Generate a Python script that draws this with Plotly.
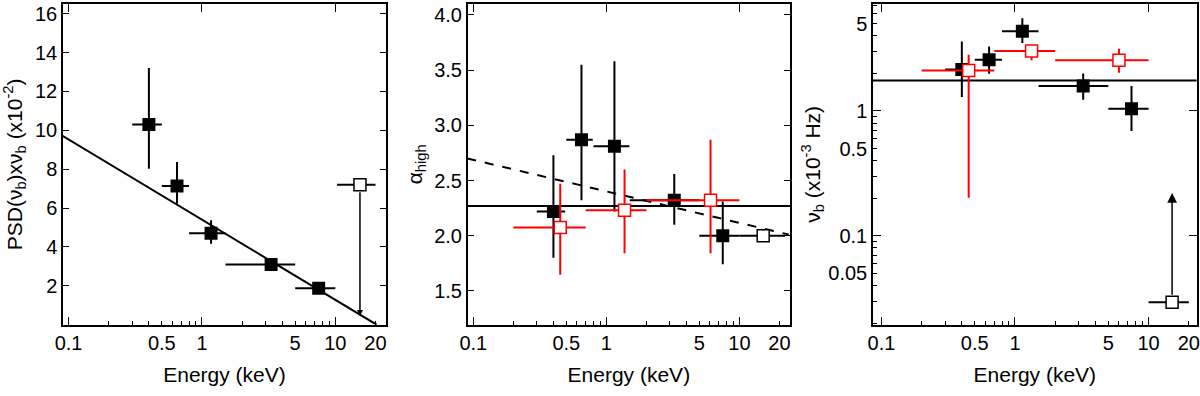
import numpy as np
import plotly.graph_objects as go

# ---------------- data ----------------
# Panel 1: PSD(nu_b) x nu_b (x1e-2)
psd_E = [0.40, 0.65, 1.17, 3.3, 7.5]
psd_Elo = [0.30, 0.50, 0.80, 1.5, 5.0]
psd_Ehi = [0.50, 0.80, 1.50, 5.0, 10.0]
psd_val = [10.3, 7.13, 4.71, 3.10, 1.88]
psd_up = [13.2, 8.37, 5.37, 3.42, 2.08]
psd_dn = [8.02, 6.22, 4.16, 2.82, 1.72]
psd_lim_E = [15.3]
psd_lim_Elo = [10.3]
psd_lim_Ehi = [20.0]
psd_lim_val = [7.2]
psd_lim_tip = [0.45]
psd_fit_E = [0.09, 20.4]
psd_fit_val = [9.72, 0.0]

# Panel 2: alpha_high
alp_E = [0.40, 0.65, 1.15, 3.24, 7.5]
alp_Elo = [0.30, 0.50, 0.80, 1.5, 5.0]
alp_Ehi = [0.49, 0.79, 1.49, 5.0, 10.0]
alp_val = [2.22, 2.87, 2.81, 2.32, 2.00]
alp_up = [2.73, 3.55, 3.58, 2.56, 2.31]
alp_dn = [1.80, 2.32, 2.22, 2.10, 1.74]
alp_open_E = [15.1]
alp_open_Elo = [10.0]
alp_open_Ehi = [22.0]
alp_open_val = [2.00]
alp_red_E = [0.45, 1.37, 6.07]
alp_red_Elo = [0.20, 0.70, 2.0]
alp_red_Ehi = [0.70, 2.0, 10.0]
alp_red_val = [2.075, 2.23, 2.32]
alp_red_up = [2.47, 2.60, 2.87]
alp_red_dn = [1.645, 1.84, 1.84]
alp_const = 2.27
alp_dash_E = [0.09, 23.5]
alp_dash_val = [2.70, 2.01]

# Panel 3: nu_b (x1e-3 Hz)
nu_E = [0.40, 0.64, 1.135, 3.24, 7.45]
nu_Elo = [0.30, 0.50, 0.80, 1.5, 5.0]
nu_Ehi = [0.50, 0.80, 1.50, 5.0, 10.0]
nu_val = [2.15, 2.57, 4.35, 1.58, 1.04]
nu_up = [3.59, 3.28, 5.52, 1.99, 1.58]
nu_dn = [1.29, 1.98, 3.49, 1.23, 0.69]
nu_lim_E = [15.0]
nu_lim_Elo = [10.0]
nu_lim_Ehi = [20.0]
nu_lim_val = [0.0295]
nu_lim_tip = [0.22]
nu_red_E = [0.45, 1.33, 6.0]
nu_red_Elo = [0.20, 0.70, 2.0]
nu_red_Ehi = [0.70, 2.0, 10.0]
nu_red_val = [2.11, 3.01, 2.54]
nu_red_up = [2.81, 3.01, 3.14]
nu_red_dn = [0.202, 2.54, 2.02]
nu_const = 1.75

# tick labels
x_labeled = [0.1, 0.5, 1, 5, 10, 20]
x_minor = [0.2, 0.3, 0.4, 0.5, 0.6, 0.7, 0.8, 0.9,
           2, 3, 4, 5, 6, 7, 8, 9, 20]
x_decades = [0.1, 1, 10]
psd_ticks = [2, 4, 6, 8, 10, 12, 14, 16]
alp_ticks = [1.5, 2.0, 2.5, 3.0, 3.5, 4.0]
nu_labeled = [0.05, 0.1, 0.5, 1, 5]
nu_minor = [0.02, 0.03, 0.04, 0.05, 0.06, 0.07, 0.08, 0.09,
            0.2, 0.3, 0.4, 0.5, 0.6, 0.7, 0.8, 0.9,
            2, 3, 4, 5, 6, 7]
nu_decades = [0.1, 1]

FONT = "Liberation Sans, Arial, sans-serif"
RED = "#ff0000"


def errx(E, lo, hi, color):
    E = np.array(E); lo = np.array(lo); hi = np.array(hi)
    return dict(type="data", symmetric=False, array=hi - E, arrayminus=E - lo,
                color=color, thickness=2, width=0)


def erry(v, up, dn, color):
    v = np.array(v); up = np.array(up); dn = np.array(dn)
    return dict(type="data", symmetric=False, array=up - v, arrayminus=v - dn,
                color=color, thickness=2, width=0)


fig = go.Figure()

# ---- Panel 1 ----
fig.add_trace(go.Scatter(x=psd_fit_E, y=psd_fit_val, mode="lines",
                         line=dict(color="black", width=2), xaxis="x", yaxis="y"))
fig.add_trace(go.Scatter(x=psd_E, y=psd_val, mode="markers",
                         marker=dict(symbol="square", size=13, color="black"),
                         error_x=errx(psd_E, psd_Elo, psd_Ehi, "black"),
                         error_y=erry(psd_val, psd_up, psd_dn, "black"),
                         xaxis="x", yaxis="y"))
fig.add_trace(go.Scatter(x=psd_lim_E, y=psd_lim_val, mode="markers",
                         marker=dict(symbol="square", size=12, color="white",
                                     line=dict(color="black", width=1.5)),
                         error_x=errx(psd_lim_E, psd_lim_Elo, psd_lim_Ehi, "black"),
                         xaxis="x", yaxis="y"))

# ---- Panel 2 ----
fig.add_trace(go.Scatter(x=[x_labeled[0] * 0.5, x_labeled[-1] * 2], y=[alp_const, alp_const],
                         mode="lines", line=dict(color="black", width=2),
                         xaxis="x2", yaxis="y2"))
fig.add_trace(go.Scatter(x=alp_dash_E, y=alp_dash_val, mode="lines",
                         line=dict(color="black", width=2, dash="dash"),
                         xaxis="x2", yaxis="y2"))
fig.add_trace(go.Scatter(x=alp_E, y=alp_val, mode="markers",
                         marker=dict(symbol="square", size=13, color="black"),
                         error_x=errx(alp_E, alp_Elo, alp_Ehi, "black"),
                         error_y=erry(alp_val, alp_up, alp_dn, "black"),
                         xaxis="x2", yaxis="y2"))
fig.add_trace(go.Scatter(x=alp_open_E, y=alp_open_val, mode="markers",
                         marker=dict(symbol="square", size=12, color="white",
                                     line=dict(color="black", width=1.5)),
                         error_x=errx(alp_open_E, alp_open_Elo, alp_open_Ehi, "black"),
                         xaxis="x2", yaxis="y2"))
fig.add_trace(go.Scatter(x=alp_red_E, y=alp_red_val, mode="markers",
                         marker=dict(symbol="square", size=12, color="white",
                                     line=dict(color=RED, width=1.5)),
                         error_x=errx(alp_red_E, alp_red_Elo, alp_red_Ehi, RED),
                         error_y=erry(alp_red_val, alp_red_up, alp_red_dn, RED),
                         xaxis="x2", yaxis="y2"))

# ---- Panel 3 ----
fig.add_trace(go.Scatter(x=[x_labeled[0] * 0.5, x_labeled[-1] * 2], y=[nu_const, nu_const],
                         mode="lines", line=dict(color="black", width=2),
                         xaxis="x3", yaxis="y3"))
fig.add_trace(go.Scatter(x=nu_E, y=nu_val, mode="markers",
                         marker=dict(symbol="square", size=13, color="black"),
                         error_x=errx(nu_E, nu_Elo, nu_Ehi, "black"),
                         error_y=erry(nu_val, nu_up, nu_dn, "black"),
                         xaxis="x3", yaxis="y3"))
fig.add_trace(go.Scatter(x=nu_red_E, y=nu_red_val, mode="markers",
                         marker=dict(symbol="square", size=12, color="white",
                                     line=dict(color=RED, width=1.5)),
                         error_x=errx(nu_red_E, nu_red_Elo, nu_red_Ehi, RED),
                         error_y=erry(nu_red_val, nu_red_up, nu_red_dn, RED),
                         xaxis="x3", yaxis="y3"))
fig.add_trace(go.Scatter(x=nu_lim_E, y=nu_lim_val, mode="markers",
                         marker=dict(symbol="square", size=12, color="white",
                                     line=dict(color="black", width=1.5)),
                         error_x=errx(nu_lim_E, nu_lim_Elo, nu_lim_Ehi, "black"),
                         xaxis="x3", yaxis="y3"))

# empty traces to bind overlay axes
for xa, ya in [("x4", "y"), ("x5", "y2"), ("x6", "y3"), ("x6", "y4")]:
    fig.add_trace(go.Scatter(x=[], y=[], xaxis=xa, yaxis=ya, showlegend=False))

# ---------------- axes ----------------
XR = [np.log10(0.0908), np.log10(24.0)]
XR3 = [np.log10(0.0865), np.log10(22.9)]
ydom = [0.18, 0.99]
xdoms = [[0.0525, 0.3217], [0.3898, 0.6583], [0.7275, 0.9972]]

tickfont = dict(family=FONT, size=20, color="black")
titlefont = dict(family=FONT, size=21, color="black")


def main_x(dom, anchor, rng):
    return dict(domain=dom, anchor=anchor, type="log", range=rng,
                tickvals=x_labeled, ticktext=["%g" % v for v in x_labeled],
                ticks="inside", ticklen=4, tickwidth=1.2, tickcolor="black",
                minor=dict(tickvals=x_minor, ticks="inside", ticklen=4,
                           tickwidth=1.2, tickcolor="black", showgrid=False),
                showline=True, linecolor="black", linewidth=1.5, mirror=False,
                showgrid=False, zeroline=False, tickfont=tickfont, automargin=False,
                title=dict(text="Energy (keV)", font=titlefont, standoff=14))


def over_x(over, anchor, rng):
    return dict(overlaying=over, anchor=anchor, side="bottom", type="log", range=rng,
                tickvals=x_decades, showticklabels=False,
                ticks="inside", ticklen=8, tickwidth=1.2, tickcolor="black",
                showline=True, linecolor="black", linewidth=1.5, mirror="ticks",
                showgrid=False, zeroline=False, automargin=False)


layout = dict(
    width=1200, height=396, paper_bgcolor="white", plot_bgcolor="white",
    margin=dict(l=0, r=0, t=0, b=0, autoexpand=False), showlegend=False,
    font=dict(family=FONT, color="black"), hovermode=False,
    xaxis=main_x(xdoms[0], "y", XR),
    xaxis2=main_x(xdoms[1], "y2", XR),
    xaxis3=main_x(xdoms[2], "y3", XR3),
    xaxis4=over_x("x", "y", XR),
    xaxis5=over_x("x2", "y2", XR),
    xaxis6=over_x("x3", "y3", XR3),
    yaxis=dict(domain=ydom, anchor="x", range=[0, 16.5], tickvals=psd_ticks,
               ticks="inside", ticklen=6, tickwidth=1.2, tickcolor="black",
               showline=True, linecolor="black", linewidth=1.5, mirror="ticks",
               showgrid=False, zeroline=False, tickfont=tickfont, automargin=False,
               title=dict(text="PSD(ν<sub>b</sub>)xν<sub>b</sub> (x10<sup>-2</sup>)",
                          font=titlefont, standoff=10)),
    yaxis2=dict(domain=ydom, anchor="x2", range=[1.193, 4.1], tickvals=alp_ticks,
                tickformat=".1f",
                ticks="inside", ticklen=6, tickwidth=1.2, tickcolor="black",
                showline=True, linecolor="black", linewidth=1.5, mirror="ticks",
                showgrid=False, zeroline=False, tickfont=tickfont, automargin=False,
                title=dict(text="α<sub>high</sub>", font=titlefont, standoff=6)),
    yaxis3=dict(domain=ydom, anchor="x3", type="log", range=[-1.711, 0.856],
                tickvals=nu_labeled, ticktext=["%g" % v for v in nu_labeled],
                ticks="inside", ticklen=4, tickwidth=1.2, tickcolor="black",
                minor=dict(tickvals=nu_minor, ticks="inside", ticklen=4,
                           tickwidth=1.2, tickcolor="black", showgrid=False),
                showline=True, linecolor="black", linewidth=1.5, mirror=False,
                showgrid=False, zeroline=False, tickfont=tickfont, automargin=False,
                title=dict(text="ν<sub>b</sub> (x10<sup>-3</sup> Hz)",
                           font=titlefont, standoff=2)),
    yaxis4=dict(overlaying="y3", anchor="x6", side="left", type="log",
                range=[-1.711, 0.856], tickvals=nu_decades, showticklabels=False,
                ticks="inside", ticklen=8, tickwidth=1.2, tickcolor="black",
                showline=True, linecolor="black", linewidth=1.5, mirror="ticks",
                showgrid=False, zeroline=False, automargin=False),
)
fig.update_layout(**layout)

# limit arrows
fig.add_annotation(x=np.log10(psd_lim_E[0]), y=psd_lim_tip[0],
                   ax=np.log10(psd_lim_E[0]), ay=psd_lim_val[0],
                   xref="x", yref="y", axref="x", ayref="y", text="",
                   showarrow=True, arrowhead=2, arrowsize=0.8, arrowwidth=1.5,
                   arrowcolor="black", startstandoff=6)
fig.add_annotation(x=np.log10(nu_lim_E[0]), y=np.log10(nu_lim_tip[0]),
                   ax=np.log10(nu_lim_E[0]), ay=np.log10(nu_lim_val[0]),
                   xref="x3", yref="y3", axref="x3", ayref="y3", text="",
                   showarrow=True, arrowhead=2, arrowsize=1.3, arrowwidth=1.5,
                   arrowcolor="black", startstandoff=6)

fig.write_html("out.html", config={"displayModeBar": False},
               post_script="document.body.style.margin='0';")
